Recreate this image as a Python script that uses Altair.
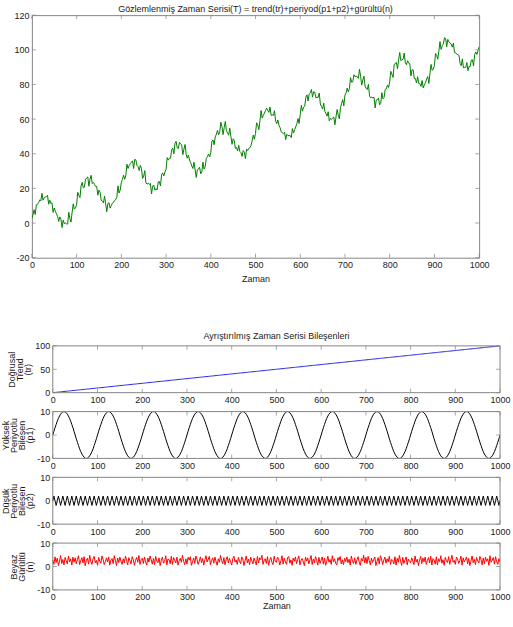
import altair as alt
import pandas as pd

# Time axis, one sample every 2.5 units
ZAMAN = [
    0, 2.5, 5, 7.5, 10, 12.5, 15, 17.5, 20, 22.5, 25, 27.5, 30, 32.5, 35, 37.5, 40, 42.5, 45, 47.5,
    50, 52.5, 55, 57.5, 60, 62.5, 65, 67.5, 70, 72.5, 75, 77.5, 80, 82.5, 85, 87.5, 90, 92.5, 95, 97.5,
    100, 102.5, 105, 107.5, 110, 112.5, 115, 117.5, 120, 122.5, 125, 127.5, 130, 132.5, 135, 137.5, 140, 142.5, 145, 147.5,
    150, 152.5, 155, 157.5, 160, 162.5, 165, 167.5, 170, 172.5, 175, 177.5, 180, 182.5, 185, 187.5, 190, 192.5, 195, 197.5,
    200, 202.5, 205, 207.5, 210, 212.5, 215, 217.5, 220, 222.5, 225, 227.5, 230, 232.5, 235, 237.5, 240, 242.5, 245, 247.5,
    250, 252.5, 255, 257.5, 260, 262.5, 265, 267.5, 270, 272.5, 275, 277.5, 280, 282.5, 285, 287.5, 290, 292.5, 295, 297.5,
    300, 302.5, 305, 307.5, 310, 312.5, 315, 317.5, 320, 322.5, 325, 327.5, 330, 332.5, 335, 337.5, 340, 342.5, 345, 347.5,
    350, 352.5, 355, 357.5, 360, 362.5, 365, 367.5, 370, 372.5, 375, 377.5, 380, 382.5, 385, 387.5, 390, 392.5, 395, 397.5,
    400, 402.5, 405, 407.5, 410, 412.5, 415, 417.5, 420, 422.5, 425, 427.5, 430, 432.5, 435, 437.5, 440, 442.5, 445, 447.5,
    450, 452.5, 455, 457.5, 460, 462.5, 465, 467.5, 470, 472.5, 475, 477.5, 480, 482.5, 485, 487.5, 490, 492.5, 495, 497.5,
    500, 502.5, 505, 507.5, 510, 512.5, 515, 517.5, 520, 522.5, 525, 527.5, 530, 532.5, 535, 537.5, 540, 542.5, 545, 547.5,
    550, 552.5, 555, 557.5, 560, 562.5, 565, 567.5, 570, 572.5, 575, 577.5, 580, 582.5, 585, 587.5, 590, 592.5, 595, 597.5,
    600, 602.5, 605, 607.5, 610, 612.5, 615, 617.5, 620, 622.5, 625, 627.5, 630, 632.5, 635, 637.5, 640, 642.5, 645, 647.5,
    650, 652.5, 655, 657.5, 660, 662.5, 665, 667.5, 670, 672.5, 675, 677.5, 680, 682.5, 685, 687.5, 690, 692.5, 695, 697.5,
    700, 702.5, 705, 707.5, 710, 712.5, 715, 717.5, 720, 722.5, 725, 727.5, 730, 732.5, 735, 737.5, 740, 742.5, 745, 747.5,
    750, 752.5, 755, 757.5, 760, 762.5, 765, 767.5, 770, 772.5, 775, 777.5, 780, 782.5, 785, 787.5, 790, 792.5, 795, 797.5,
    800, 802.5, 805, 807.5, 810, 812.5, 815, 817.5, 820, 822.5, 825, 827.5, 830, 832.5, 835, 837.5, 840, 842.5, 845, 847.5,
    850, 852.5, 855, 857.5, 860, 862.5, 865, 867.5, 870, 872.5, 875, 877.5, 880, 882.5, 885, 887.5, 890, 892.5, 895, 897.5,
    900, 902.5, 905, 907.5, 910, 912.5, 915, 917.5, 920, 922.5, 925, 927.5, 930, 932.5, 935, 937.5, 940, 942.5, 945, 947.5,
    950, 952.5, 955, 957.5, 960, 962.5, 965, 967.5, 970, 972.5, 975, 977.5, 980, 982.5, 985, 987.5, 990, 992.5, 995, 997.5,
    1000,
]

# Linear trend component (tr)
TREND = [
    0, 0.25, 0.5, 0.75, 1, 1.25, 1.5, 1.75, 2, 2.25, 2.5, 2.75, 3, 3.25, 3.5, 3.75, 4, 4.25, 4.5, 4.75,
    5, 5.25, 5.5, 5.75, 6, 6.25, 6.5, 6.75, 7, 7.25, 7.5, 7.75, 8, 8.25, 8.5, 8.75, 9, 9.25, 9.5, 9.75,
    10, 10.25, 10.5, 10.75, 11, 11.25, 11.5, 11.75, 12, 12.25, 12.5, 12.75, 13, 13.25, 13.5, 13.75, 14, 14.25, 14.5, 14.75,
    15, 15.25, 15.5, 15.75, 16, 16.25, 16.5, 16.75, 17, 17.25, 17.5, 17.75, 18, 18.25, 18.5, 18.75, 19, 19.25, 19.5, 19.75,
    20, 20.25, 20.5, 20.75, 21, 21.25, 21.5, 21.75, 22, 22.25, 22.5, 22.75, 23, 23.25, 23.5, 23.75, 24, 24.25, 24.5, 24.75,
    25, 25.25, 25.5, 25.75, 26, 26.25, 26.5, 26.75, 27, 27.25, 27.5, 27.75, 28, 28.25, 28.5, 28.75, 29, 29.25, 29.5, 29.75,
    30, 30.25, 30.5, 30.75, 31, 31.25, 31.5, 31.75, 32, 32.25, 32.5, 32.75, 33, 33.25, 33.5, 33.75, 34, 34.25, 34.5, 34.75,
    35, 35.25, 35.5, 35.75, 36, 36.25, 36.5, 36.75, 37, 37.25, 37.5, 37.75, 38, 38.25, 38.5, 38.75, 39, 39.25, 39.5, 39.75,
    40, 40.25, 40.5, 40.75, 41, 41.25, 41.5, 41.75, 42, 42.25, 42.5, 42.75, 43, 43.25, 43.5, 43.75, 44, 44.25, 44.5, 44.75,
    45, 45.25, 45.5, 45.75, 46, 46.25, 46.5, 46.75, 47, 47.25, 47.5, 47.75, 48, 48.25, 48.5, 48.75, 49, 49.25, 49.5, 49.75,
    50, 50.25, 50.5, 50.75, 51, 51.25, 51.5, 51.75, 52, 52.25, 52.5, 52.75, 53, 53.25, 53.5, 53.75, 54, 54.25, 54.5, 54.75,
    55, 55.25, 55.5, 55.75, 56, 56.25, 56.5, 56.75, 57, 57.25, 57.5, 57.75, 58, 58.25, 58.5, 58.75, 59, 59.25, 59.5, 59.75,
    60, 60.25, 60.5, 60.75, 61, 61.25, 61.5, 61.75, 62, 62.25, 62.5, 62.75, 63, 63.25, 63.5, 63.75, 64, 64.25, 64.5, 64.75,
    65, 65.25, 65.5, 65.75, 66, 66.25, 66.5, 66.75, 67, 67.25, 67.5, 67.75, 68, 68.25, 68.5, 68.75, 69, 69.25, 69.5, 69.75,
    70, 70.25, 70.5, 70.75, 71, 71.25, 71.5, 71.75, 72, 72.25, 72.5, 72.75, 73, 73.25, 73.5, 73.75, 74, 74.25, 74.5, 74.75,
    75, 75.25, 75.5, 75.75, 76, 76.25, 76.5, 76.75, 77, 77.25, 77.5, 77.75, 78, 78.25, 78.5, 78.75, 79, 79.25, 79.5, 79.75,
    80, 80.25, 80.5, 80.75, 81, 81.25, 81.5, 81.75, 82, 82.25, 82.5, 82.75, 83, 83.25, 83.5, 83.75, 84, 84.25, 84.5, 84.75,
    85, 85.25, 85.5, 85.75, 86, 86.25, 86.5, 86.75, 87, 87.25, 87.5, 87.75, 88, 88.25, 88.5, 88.75, 89, 89.25, 89.5, 89.75,
    90, 90.25, 90.5, 90.75, 91, 91.25, 91.5, 91.75, 92, 92.25, 92.5, 92.75, 93, 93.25, 93.5, 93.75, 94, 94.25, 94.5, 94.75,
    95, 95.25, 95.5, 95.75, 96, 96.25, 96.5, 96.75, 97, 97.25, 97.5, 97.75, 98, 98.25, 98.5, 98.75, 99, 99.25, 99.5, 99.75,
    100,
]

# Long-period component (p1), period 100
P1 = [
    0, 1.6, 3.1, 4.5, 5.9, 7.1, 8.1, 8.9, 9.5, 9.9, 10, 9.9, 9.5, 8.9, 8.1, 7.1, 5.9, 4.5, 3.1, 1.6,
    0, -1.6, -3.1, -4.5, -5.9, -7.1, -8.1, -8.9, -9.5, -9.9, -10, -9.9, -9.5, -8.9, -8.1, -7.1, -5.9, -4.5, -3.1, -1.6,
    0, 1.6, 3.1, 4.5, 5.9, 7.1, 8.1, 8.9, 9.5, 9.9, 10, 9.9, 9.5, 8.9, 8.1, 7.1, 5.9, 4.5, 3.1, 1.6,
    0, -1.6, -3.1, -4.5, -5.9, -7.1, -8.1, -8.9, -9.5, -9.9, -10, -9.9, -9.5, -8.9, -8.1, -7.1, -5.9, -4.5, -3.1, -1.6,
    0, 1.6, 3.1, 4.5, 5.9, 7.1, 8.1, 8.9, 9.5, 9.9, 10, 9.9, 9.5, 8.9, 8.1, 7.1, 5.9, 4.5, 3.1, 1.6,
    0, -1.6, -3.1, -4.5, -5.9, -7.1, -8.1, -8.9, -9.5, -9.9, -10, -9.9, -9.5, -8.9, -8.1, -7.1, -5.9, -4.5, -3.1, -1.6,
    0, 1.6, 3.1, 4.5, 5.9, 7.1, 8.1, 8.9, 9.5, 9.9, 10, 9.9, 9.5, 8.9, 8.1, 7.1, 5.9, 4.5, 3.1, 1.6,
    0, -1.6, -3.1, -4.5, -5.9, -7.1, -8.1, -8.9, -9.5, -9.9, -10, -9.9, -9.5, -8.9, -8.1, -7.1, -5.9, -4.5, -3.1, -1.6,
    0, 1.6, 3.1, 4.5, 5.9, 7.1, 8.1, 8.9, 9.5, 9.9, 10, 9.9, 9.5, 8.9, 8.1, 7.1, 5.9, 4.5, 3.1, 1.6,
    0, -1.6, -3.1, -4.5, -5.9, -7.1, -8.1, -8.9, -9.5, -9.9, -10, -9.9, -9.5, -8.9, -8.1, -7.1, -5.9, -4.5, -3.1, -1.6,
    0, 1.6, 3.1, 4.5, 5.9, 7.1, 8.1, 8.9, 9.5, 9.9, 10, 9.9, 9.5, 8.9, 8.1, 7.1, 5.9, 4.5, 3.1, 1.6,
    0, -1.6, -3.1, -4.5, -5.9, -7.1, -8.1, -8.9, -9.5, -9.9, -10, -9.9, -9.5, -8.9, -8.1, -7.1, -5.9, -4.5, -3.1, -1.6,
    0, 1.6, 3.1, 4.5, 5.9, 7.1, 8.1, 8.9, 9.5, 9.9, 10, 9.9, 9.5, 8.9, 8.1, 7.1, 5.9, 4.5, 3.1, 1.6,
    0, -1.6, -3.1, -4.5, -5.9, -7.1, -8.1, -8.9, -9.5, -9.9, -10, -9.9, -9.5, -8.9, -8.1, -7.1, -5.9, -4.5, -3.1, -1.6,
    0, 1.6, 3.1, 4.5, 5.9, 7.1, 8.1, 8.9, 9.5, 9.9, 10, 9.9, 9.5, 8.9, 8.1, 7.1, 5.9, 4.5, 3.1, 1.6,
    0, -1.6, -3.1, -4.5, -5.9, -7.1, -8.1, -8.9, -9.5, -9.9, -10, -9.9, -9.5, -8.9, -8.1, -7.1, -5.9, -4.5, -3.1, -1.6,
    0, 1.6, 3.1, 4.5, 5.9, 7.1, 8.1, 8.9, 9.5, 9.9, 10, 9.9, 9.5, 8.9, 8.1, 7.1, 5.9, 4.5, 3.1, 1.6,
    0, -1.6, -3.1, -4.5, -5.9, -7.1, -8.1, -8.9, -9.5, -9.9, -10, -9.9, -9.5, -8.9, -8.1, -7.1, -5.9, -4.5, -3.1, -1.6,
    0, 1.6, 3.1, 4.5, 5.9, 7.1, 8.1, 8.9, 9.5, 9.9, 10, 9.9, 9.5, 8.9, 8.1, 7.1, 5.9, 4.5, 3.1, 1.6,
    0, -1.6, -3.1, -4.5, -5.9, -7.1, -8.1, -8.9, -9.5, -9.9, -10, -9.9, -9.5, -8.9, -8.1, -7.1, -5.9, -4.5, -3.1, -1.6,
    0,
]

# Short-period component (p2), period 10
P2 = [
    0, 2, 0, -2, 0, 2, 0, -2, 0, 2, 0, -2, 0, 2, 0, -2, 0, 2, 0, -2,
    0, 2, 0, -2, 0, 2, 0, -2, 0, 2, 0, -2, 0, 2, 0, -2, 0, 2, 0, -2,
    0, 2, 0, -2, 0, 2, 0, -2, 0, 2, 0, -2, 0, 2, 0, -2, 0, 2, 0, -2,
    0, 2, 0, -2, 0, 2, 0, -2, 0, 2, 0, -2, 0, 2, 0, -2, 0, 2, 0, -2,
    0, 2, 0, -2, 0, 2, 0, -2, 0, 2, 0, -2, 0, 2, 0, -2, 0, 2, 0, -2,
    0, 2, 0, -2, 0, 2, 0, -2, 0, 2, 0, -2, 0, 2, 0, -2, 0, 2, 0, -2,
    0, 2, 0, -2, 0, 2, 0, -2, 0, 2, 0, -2, 0, 2, 0, -2, 0, 2, 0, -2,
    0, 2, 0, -2, 0, 2, 0, -2, 0, 2, 0, -2, 0, 2, 0, -2, 0, 2, 0, -2,
    0, 2, 0, -2, 0, 2, 0, -2, 0, 2, 0, -2, 0, 2, 0, -2, 0, 2, 0, -2,
    0, 2, 0, -2, 0, 2, 0, -2, 0, 2, 0, -2, 0, 2, 0, -2, 0, 2, 0, -2,
    0, 2, 0, -2, 0, 2, 0, -2, 0, 2, 0, -2, 0, 2, 0, -2, 0, 2, 0, -2,
    0, 2, 0, -2, 0, 2, 0, -2, 0, 2, 0, -2, 0, 2, 0, -2, 0, 2, 0, -2,
    0, 2, 0, -2, 0, 2, 0, -2, 0, 2, 0, -2, 0, 2, 0, -2, 0, 2, 0, -2,
    0, 2, 0, -2, 0, 2, 0, -2, 0, 2, 0, -2, 0, 2, 0, -2, 0, 2, 0, -2,
    0, 2, 0, -2, 0, 2, 0, -2, 0, 2, 0, -2, 0, 2, 0, -2, 0, 2, 0, -2,
    0, 2, 0, -2, 0, 2, 0, -2, 0, 2, 0, -2, 0, 2, 0, -2, 0, 2, 0, -2,
    0, 2, 0, -2, 0, 2, 0, -2, 0, 2, 0, -2, 0, 2, 0, -2, 0, 2, 0, -2,
    0, 2, 0, -2, 0, 2, 0, -2, 0, 2, 0, -2, 0, 2, 0, -2, 0, 2, 0, -2,
    0, 2, 0, -2, 0, 2, 0, -2, 0, 2, 0, -2, 0, 2, 0, -2, 0, 2, 0, -2,
    0, 2, 0, -2, 0, 2, 0, -2, 0, 2, 0, -2, 0, 2, 0, -2, 0, 2, 0, -2,
    0,
]

# White noise component (n)
NOISE = [
    2.8, 0.9, 4.1, 1.7, 3.6, 0.4, 2.2, 4.7, 1.3, 3.0, 0.7, 3.9, 2.5, 1.1, 4.4, 2.0, 3.3, 0.6, 4.0, 1.8,
    3.7, 1.2, 2.9, 4.6, 0.8, 2.4, 3.8, 1.5, 4.2, 0.3, 2.7, 3.5, 1.0, 4.8, 2.1, 0.9, 3.2, 4.3, 1.6, 2.6,
    0.5, 3.9, 2.3, 1.4, 4.5, 3.1, 0.8, 2.0, 3.7, 1.9, 4.1, 0.6, 2.8, 3.4, 1.2, 4.6, 2.5, 0.4, 3.6, 1.7,
    4.0, 2.2, 0.9, 3.3, 1.5, 4.4, 2.7, 0.7, 3.8, 2.4, 1.1, 4.2, 3.0, 0.5, 2.6, 3.9, 1.8, 4.7, 0.9, 2.9,
    3.5, 1.3, 4.1, 2.0, 0.6, 3.6, 1.9, 4.5, 2.8, 1.0, 3.4, 0.8, 4.3, 2.3, 1.6, 3.7, 0.4, 2.5, 4.0, 1.4,
    2.1, 4.6, 0.7, 3.2, 2.9, 1.2, 4.4, 0.9, 3.8, 2.6, 1.5, 4.0, 0.6, 2.4, 3.5, 1.8, 4.8, 2.2, 0.8, 3.3,
    1.0, 3.9, 2.7, 4.2, 0.5, 2.0, 3.6, 1.3, 4.5, 3.0, 0.9, 2.3, 4.1, 1.7, 3.4, 0.6, 2.8, 4.6, 1.9, 3.1,
    4.3, 0.8, 2.5, 3.7, 1.4, 4.0, 2.2, 0.5, 3.3, 1.8, 4.7, 2.6, 1.1, 3.8, 0.7, 2.9, 4.2, 1.5, 3.5, 2.0,
    0.6, 3.4, 4.4, 1.9, 2.8, 0.9, 3.9, 2.3, 1.2, 4.1, 3.0, 0.4, 2.6, 4.5, 1.6, 3.2, 0.8, 4.0, 2.4, 1.1,
    3.6, 2.1, 0.7, 4.3, 1.5, 3.7, 2.9, 4.8, 0.9, 2.5, 3.3, 1.3, 4.2, 0.5, 2.7, 3.9, 1.7, 0.8, 4.4, 2.2,
    1.8, 4.0, 3.1, 0.6, 2.4, 4.6, 1.0, 3.5, 2.0, 0.9, 3.8, 4.3, 1.4, 2.8, 0.5, 3.6, 2.2, 4.1, 1.2, 3.0,
    4.5, 0.7, 2.6, 3.4, 1.9, 0.4, 4.0, 2.3, 3.7, 1.1, 2.9, 4.7, 0.8, 3.2, 1.6, 4.2, 2.5, 0.6, 3.9, 1.3,
    2.7, 4.1, 1.0, 3.6, 0.5, 2.2, 4.4, 1.8, 3.0, 0.9, 4.6, 2.0, 3.3, 1.4, 0.7, 3.8, 2.6, 4.3, 1.1, 2.9,
    0.8, 3.5, 2.1, 4.0, 1.6, 3.1, 0.6, 4.5, 2.4, 1.3, 3.7, 0.9, 2.8, 4.2, 1.9, 0.5, 3.4, 2.3, 4.8, 1.5,
    3.9, 1.2, 4.3, 2.5, 0.7, 3.6, 1.7, 2.9, 4.1, 0.4, 2.2, 3.8, 1.0, 4.6, 3.2, 0.8, 2.7, 4.0, 1.4, 3.3,
    2.0, 4.4, 0.9, 3.0, 2.6, 1.1, 4.2, 0.6, 3.5, 1.8, 4.7, 2.4, 0.5, 3.9, 1.3, 2.8, 4.1, 0.7, 3.2, 2.1,
    1.6, 3.7, 2.3, 0.8, 4.5, 1.9, 3.1, 0.4, 2.7, 4.3, 1.2, 3.6, 2.0, 4.0, 0.9, 2.5, 3.8, 1.5, 4.4, 0.6,
    3.4, 2.8, 1.0, 4.1, 0.7, 3.3, 2.1, 4.6, 1.4, 2.9, 0.5, 3.9, 2.4, 1.7, 4.2, 0.9, 3.0, 4.8, 1.8, 2.6,
    0.9, 4.0, 3.2, 1.3, 2.5, 4.4, 0.6, 3.7, 1.9, 2.8, 4.1, 1.1, 3.5, 0.4, 2.3, 4.5, 1.6, 3.1, 0.8, 3.9,
    2.4, 1.5, 4.3, 2.9, 0.7, 3.6, 1.2, 4.0, 2.2, 3.3, 0.5, 4.6, 1.8, 2.7, 3.8, 1.0, 4.2, 2.0, 0.9, 3.4,
    1.8,
]

X_TICKS = [0, 100, 200, 300, 400, 500, 600, 700, 800, 900, 1000]
Y_TICKS_T = [-20, 0, 20, 40, 60, 80, 100, 120]
Y_TICKS_TR = [0, 50, 100]
Y_TICKS_P = [-10, 0, 10]

TITLE_TOP = "Gözlemlenmiş Zaman Serisi(T) = trend(tr)+periyod(p1+p2)+gürültü(n)"
TITLE_BOTTOM = "Ayrıştırılmış Zaman Serisi Bileşenleri"
X_LABEL = "Zaman"

FONT = "Liberation Sans"
INK = "#1a1a1a"
FRAME = "#858585"
GREEN = "#008000"
BLUE = "#2020e0"
BLACK = "#000000"
RED = "#ff0000"
TICK_LEN = 4
PLAIN_NUMBER = "'' + datum.value"

# the lower panels sit further right than the upper one
SHIFT = 21
PLOT_W = 449

df = pd.DataFrame({"t": ZAMAN, "tr": TREND, "p1": P1, "p2": P2, "n": NOISE})
# observed series is the sum of its four components
df["T"] = df["tr"] + df["p1"] + df["p2"] + df["n"]
one_row = pd.DataFrame({"k": [0]})


def edge_ticks(xs, ys, xdom, ydom, xvals, yvals):
    """Inward tick marks on all four sides of the box."""
    xt = pd.DataFrame({"v": xvals})
    yt = pd.DataFrame({"v": yvals})
    kw = dict(color=FRAME, size=TICK_LEN, thickness=1)
    half = TICK_LEN / 2
    layers = []
    for edge, off in ((ydom[0], -half), (ydom[1], half)):
        layers.append(
            alt.Chart(xt).mark_tick(orient="vertical", yOffset=off, **kw).encode(
                x=alt.X("v:Q", scale=xs, axis=None),
                y=alt.YDatum(edge, scale=ys, axis=None),
            )
        )
    for edge, off in ((xdom[0], half), (xdom[1], -half)):
        layers.append(
            alt.Chart(yt).mark_tick(orient="horizontal", xOffset=off, **kw).encode(
                x=alt.XDatum(edge, scale=xs, axis=None),
                y=alt.Y("v:Q", scale=ys, axis=None),
            )
        )
    return layers


def panel(field, color, ydom, yvals, ytitle, height, xtitle="",
          ytitle_pad=2.5, xtitle_pad=5, shift=0):
    xdom = [0, 1000]
    if shift:
        xs = alt.Scale(domain=xdom, range=[shift, shift + PLOT_W], nice=False, zero=False)
    else:
        xs = alt.Scale(domain=xdom, nice=False, zero=False)
    ys = alt.Scale(domain=ydom, nice=False, zero=False)
    x_axis = alt.Axis(values=X_TICKS, title=xtitle, labelExpr=PLAIN_NUMBER,
                      labelFlush=False, labelOverlap=False,
                      labelPadding=3, titlePadding=xtitle_pad)
    y_axis = alt.Axis(values=yvals, title=ytitle, labelExpr=PLAIN_NUMBER,
                      labelFlush=False, labelOverlap=False, offset=-shift,
                      labelPadding=3, titlePadding=ytitle_pad, titleLineHeight=8)
    line = alt.Chart(df).mark_line(color=color, strokeWidth=1, clip=True).encode(
        x=alt.X("t:Q", scale=xs, axis=x_axis),
        y=alt.Y(f"{field}:Q", scale=ys, axis=y_axis),
    )
    layers = [line] + edge_ticks(xs, ys, xdom, ydom, X_TICKS, yvals)
    if shift:
        box = alt.Chart(one_row).mark_rect(
            fillOpacity=0, stroke=FRAME, strokeWidth=1
        ).encode(
            x=alt.XDatum(xdom[0], scale=xs, axis=None),
            x2=alt.X2Datum(xdom[1]),
            y=alt.YDatum(ydom[0], scale=ys, axis=None),
            y2=alt.Y2Datum(ydom[1]),
        )
        layers.append(box)
    out = alt.layer(*layers).resolve_axis(x="independent", y="independent")
    if shift:
        return out.properties(width=PLOT_W + shift, height=height,
                              view=alt.ViewBackground(stroke="transparent"))
    return out.properties(width=PLOT_W, height=height)


top = panel("T", GREEN, [-20, 120], Y_TICKS_T, "", 243.5, xtitle=X_LABEL).properties(
    title=alt.Title(TITLE_TOP, frame="group", offset=-2.5)
)

p_tr = panel("tr", BLUE, [0, 100], Y_TICKS_TR, ["Doğrusal", "Trend", "(tr)"], 47,
             shift=SHIFT).properties(
    title=alt.Title(TITLE_BOTTOM, frame="group", dx=SHIFT / 2, offset=0.5)
)
p_p1 = panel("p1", BLACK, [-10, 10], Y_TICKS_P, ["Yüksek", "Periyotlu", "Bileşen", "(p1)"], 47,
             shift=SHIFT)
p_p2 = panel("p2", BLACK, [-10, 10], Y_TICKS_P, ["Düşük", "Periyotlu", "Bileşen", "(p2)"], 47,
             shift=SHIFT)
p_n = panel("n", RED, [-10, 10], Y_TICKS_P, ["Beyaz", "Gürültü", "(n)"], 47,
            xtitle=X_LABEL, xtitle_pad=0, shift=SHIFT)

components = alt.vconcat(p_tr, p_p1, p_p2, p_n, spacing=1)

chart = alt.vconcat(top, components, spacing=48).properties(
    padding={"left": 0, "top": 3, "right": 2, "bottom": 2},
    background="white",
).configure_axis(
    labelFont=FONT, labelFontSize=9, labelColor=INK,
    titleFont=FONT, titleFontSize=9, titleFontWeight="normal", titleColor=INK,
    ticks=False, domain=False, grid=False,
).configure_view(
    stroke=FRAME, strokeWidth=1
).configure_title(
    font=FONT, fontSize=9, fontWeight="normal", color=INK
)

chart.save("out.html", embed_options={"renderer": "svg", "actions": False})
